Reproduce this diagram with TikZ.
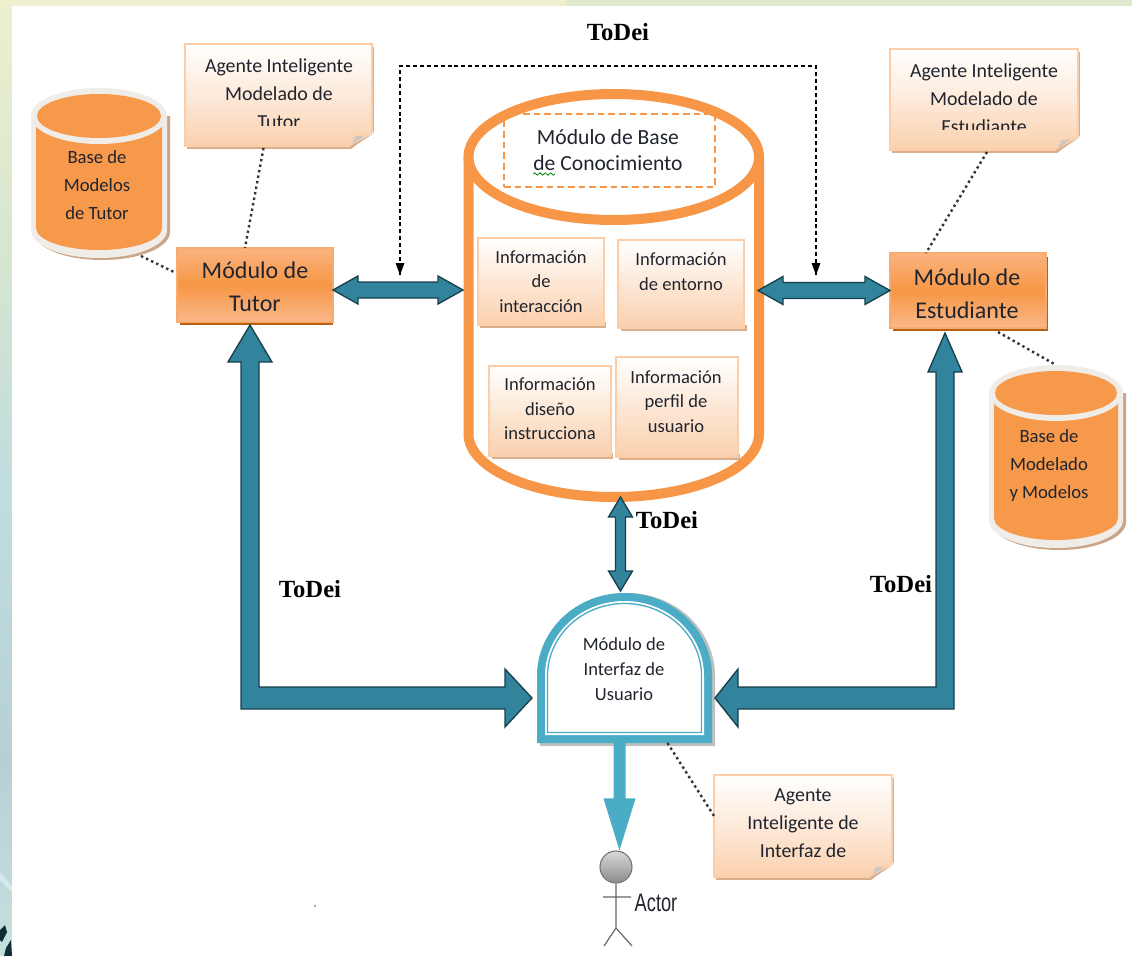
\documentclass[tikz,border=0pt]{standalone}
\usepackage{fontspec}
\setmainfont{Carlito}
\newfontfamily\todeifont{Liberation Serif}
\newfontfamily\actorfont{Liberation Sans}
\usetikzlibrary{calc,arrows.meta,decorations.pathmorphing}
\definecolor{orng}{HTML}{F79646}
\definecolor{orngL}{HTML}{FAB98A}
\definecolor{paleO}{HTML}{FAD0AD}
\definecolor{edgeO}{HTML}{FBCDA8}
\definecolor{shadeO}{HTML}{D9AE8C}
\definecolor{brownS}{HTML}{B85F14}
\definecolor{teal1}{HTML}{31849B}
\definecolor{tealD}{HTML}{17404C}
\definecolor{sky}{HTML}{4BACC6}
\definecolor{rim}{HTML}{F0ECE8}
\definecolor{rimS}{HTML}{C9A68A}
\definecolor{ink}{HTML}{20242E}
\definecolor{sA}{HTML}{EEF0CF}
\definecolor{sB}{HTML}{D6E6CF}
\definecolor{sC}{HTML}{C2DDDF}
\definecolor{sD}{HTML}{B6D0D6}
\definecolor{sE}{HTML}{C6E0DE}
\pgfdeclareverticalshading{strip}{100bp}{color(0bp)=(sE); color(25bp)=(sE); color(35bp)=(sD); color(50bp)=(sC); color(62bp)=(sB); color(75bp)=(sA); color(100bp)=(sA)}
\def\u{0.75pt}
\tikzset{
  x=0.75pt,y=-0.75pt,
  note/.style={top color=white,bottom color=paleO,middle color=white!55!paleO,draw=edgeO,line width=1pt},
  infobox/.style={top color=white,bottom color=paleO,draw=edgeO,line width=1pt},
  modbox/.style={top color=orngL!85!orng,bottom color=orngL,middle color=orng,draw=orngL!60!orng,line width=1pt},
  hidden/.style={inner sep=0pt,outer sep=0pt},
  txt/.style={text=ink,align=center,inner sep=0pt,font=\fontsize{14.9}{21}\selectfont},
  dbtxt/.style={text=ink,align=center,inner sep=0pt,font=\fontsize{14}{21}\selectfont},
  infotxt/.style={text=ink,align=center,inner sep=0pt,font=\fontsize{13.9}{18.5}\selectfont},
  modtxt/.style={text=ink,align=center,inner sep=0pt,font=\fontsize{18}{25}\selectfont},
  todei/.style={inner sep=0pt,text=black,font=\todeifont\bfseries\fontsize{18.5}{18.5}\selectfont},
  dotline/.style={draw=black!80,line width=1.8pt,dash pattern=on 1.8pt off 2.4pt},
  blockarrow/.style={fill=teal1,draw=tealD,line width=1pt,line join=miter},
}
\newcommand\rbox[6]{\node[#1,hidden,minimum width={(#5-#3)*\u},minimum height={(#6-#4)*\u}] (#2) at ({(#3+#5)/2},{(#4+#6)/2}) {};}
% note with folded corner
\newcommand\notebox[5]{%
  \fill[shadeO] (#2+2,#3+3) rectangle (#4+2,#5+3);
  \rbox{note}{#1}{#2}{#3}{#4}{#5}
  \fill[white] (#4-22,#5+4) -- (#4+3,#5+4) -- (#4+3,#5-15) -- cycle;
  \fill[shadeO] (#4-22,#5+3) -- (#4-22,#5) -- (#4+2,#5-13) -- cycle;
  \fill[paleO] (#4-22,#5) -- (#4-18,#5-10) -- (#4,#5-14) -- cycle;
  \fill[black!22] (#4-20,#5-2) -- (#4-16,#5-10) -- (#4-8,#5-10) -- cycle;
}
% database cylinder: name, cx, top, rx, ry, bottom
\newcommand\dbcyl[6]{%
  \fill[rimS] (#2-#4+2,#3+#5) -- (#2+#4+3,#3+#5) -- (#2+#4+3,#6-#5+2) arc[start angle=0,end angle=-180,x radius=#4*\u,y radius=#5*\u] -- cycle;
  \fill[rim] (#2-#4,#3+#5) -- (#2+#4,#3+#5) -- (#2+#4,#6-#5) arc[start angle=0,end angle=-180,x radius=#4*\u,y radius=#5*\u] -- cycle;
  \fill[orng!97!white] (#2-#4+5,#3+#5) -- (#2+#4-5,#3+#5) -- (#2+#4-5,#6-#5-2) arc[start angle=0,end angle=-180,x radius={(#4-5)*\u},y radius={(#5-6)*\u}] -- cycle;
  \fill[rim] (#2,#3+#5) ellipse[x radius=#4*\u,y radius=#5*\u];
  \fill[orng!97!white] (#2,#3+#5) ellipse[x radius={(#4-6)*\u},y radius={(#5-6)*\u}];
  \node[hidden,minimum width={2*#4*\u},minimum height={(#6-#3)*\u}] (#1) at (#2,{(#3+#6)/2}) {};
}
% horizontal two-headed block arrow between two named points
\newcommand\hdouble[2]{%
  \draw[blockarrow] let \p1=(#1),\p2=(#2) in
    (\x1,\y1) -- (\x1+25*\u,\y1+14*\u) -- (\x1+25*\u,\y1+8*\u) -- (\x2-25*\u,\y1+8*\u) -- (\x2-25*\u,\y1+14*\u)
    -- (\x2,\y1) -- (\x2-25*\u,\y1-14*\u) -- (\x2-25*\u,\y1-8*\u) -- (\x1+25*\u,\y1-8*\u) -- (\x1+25*\u,\y1-14*\u) -- cycle;
}
\begin{document}
\begin{tikzpicture}
\useasboundingbox (0,0) rectangle (1132,956);
% page behind the picture
\shade[shading=strip] (0,0) rectangle (12,956);
\fill[sA] (0,0) rectangle (566,6);
\fill[sB!60!sA] (566,0) rectangle (1132,6);
\fill[white] (12,6) rectangle (1132,956);
\fill[tealD!70!black] (0,930) -- (5,925) -- (7,932) -- (2,942) -- (0,940) -- cycle;
\fill[tealD!70!black] (6,948) -- (11,940) -- (12,956) -- (4,956) -- cycle;
\fill[white!35!sC] (0,872) -- (12,886) -- (12,892) -- (0,880) -- cycle;

% ---------- knowledge base cylinder
\rbox{hidden}{kb}{463}{89}{764}{502}
\draw[orng,line width=7.5pt,fill=white] (468.5,157) -- (468.5,434) arc[start angle=180,end angle=360,x radius=145.25*\u,y radius=63*\u] -- (759,157);
\draw[orng,line width=7.5pt,fill=white] (613.75,157) ellipse[x radius=145.25*\u,y radius=63*\u];
\rbox{draw=orng,line width=1pt,dash pattern=on 5pt off 3pt}{kbtitle}{504}{114}{715}{187}
\node[txt,font=\fontsize{16.2}{19}\selectfont] (kbtext) at (608,150) {Módulo de Base\\de Conocimiento};
\coordinate (wigA) at (533,174);
\coordinate (wigB) at (555,174);
\draw[green!55!black,line width=.6pt,decorate,decoration={snake,amplitude=.9pt,segment length=4pt}] (wigA) -- (wigB);

% info boxes
\fill[shadeO] (480,322) rectangle (606,328);
\rbox{infobox}{info1}{478}{238}{604}{325}
\fill[shadeO] (621,325) rectangle (747,331);
\rbox{infobox}{info2}{618}{240}{744}{328}
\fill[shadeO] (492,453) rectangle (613,459);
\rbox{infobox}{info3}{489}{366}{611}{456}
\fill[shadeO] (619,454) rectangle (740,460);
\rbox{infobox}{info4}{616}{357}{738}{457}
\node[infotxt] (t1) at (541,281.5) {Información\\de\\interacción};
\node[infotxt] (t2) at (681,272) {Información\\de entorno};
\node[infotxt] (t3) at (550,409) {Información\\diseño\\instrucciona};
\node[infotxt] (t4) at (676,401.5) {Información\\perfil de\\usuario};

% ---------- module boxes
\fill[brownS] (180,318) rectangle (333,325);
\rbox{modbox}{tutor}{177}{248}{333}{322}
\node[modtxt] (tutort) at (255,287) {Módulo de\\Tutor};
\fill[brownS] (893,257) rectangle (1048,331);
\rbox{modbox}{student}{890}{253}{1046}{328}
\node[modtxt] (studentt) at (967,294) {Módulo de\\Estudiante};

% ---------- databases
\dbcyl{tutordb}{99}{88}{68}{28}{258}
\node[dbtxt] (tutordbt) at (97,185.5) {Base de\\Modelos\\de Tutor};
\dbcyl{studentdb}{1056}{365}{67}{28}{548}
\node[dbtxt] (studentdbt) at (1049,466) {Base de\\Modelado\\y Modelos};

% ---------- agents
\notebox{agtutor}{185}{44}{372}{146}
\begin{scope}
\clip (185,44) rectangle (372,125);
\node[txt] (agtutort) at (279,94) {Agente Inteligente\\Modelado de\\Tutor};
\end{scope}
\notebox{agstudent}{890}{49}{1078}{150}
\begin{scope}
\clip (890,49) rectangle (1078,129);
\node[txt] (agstudentt) at (984,99) {Agente Inteligente\\Modelado de\\Estudiante};
\end{scope}
\notebox{agui}{714}{775}{892}{877}
\node[txt] (aguit) at (803,823.5) {Agente\\Inteligente de\\Interfaz de};

% ---------- user interface arch
\rbox{hidden}{ui}{537}{593}{712}{743}
\fill[black!25] (540,746) -- (715,746) -- (715,676) arc[start angle=0,end angle=180,x radius=87.5*\u,y radius=83*\u] -- cycle;
\fill[sky] (537,743) -- (712,743) -- (712,676) arc[start angle=0,end angle=180,x radius=87.5*\u,y radius=83*\u] -- cycle;
\fill[white] (545,735) -- (704,735) -- (704,676) arc[start angle=0,end angle=180,x radius=79.5*\u,y radius=75*\u] -- cycle;
\draw[sky,line width=1pt] (547.5,732.5) -- (701.5,732.5) -- (701.5,676) arc[start angle=0,end angle=180,x radius=77*\u,y radius=72.5*\u] -- cycle;
\node[infotxt] (uit) at (624,669) {Módulo de\\Interfaz de\\Usuario};

% ---------- block arrows
\coordinate (tutorA) at (tutor.east);
\coordinate (kbL) at (kb.west |- tutor.east);
\hdouble{$(tutorA)+(0,5)$}{$(kbL)+(0,5)$}
\coordinate (kbR) at (kb.east |- student.west);
\coordinate (stuL) at (student.west);
\hdouble{$(kbR)+(-6,0)$}{$(stuL)+(0,0)$}

% vertical two-headed arrow kb <-> ui
\coordinate (vtop) at ($(kb.south)+(7,-5)$);
\coordinate (vbot) at ($(ui.north)+(-4,-2)$);
\draw[blockarrow] let \p1=(vtop),\p2=(vbot) in
  (\x1,\y1) -- (\x1+12*\u,\y1-20*\u) -- (\x1+5*\u,\y1-20*\u) -- (\x1+5*\u,\y2+20*\u) -- (\x1+12*\u,\y2+20*\u)
  -- (\x1,\y2) -- (\x1-12*\u,\y2+20*\u) -- (\x1-5*\u,\y2+20*\u) -- (\x1-5*\u,\y1-20*\u) -- (\x1-12*\u,\y1-20*\u) -- cycle;

% big L arrow tutor <-> ui
\coordinate (ltip) at ($(tutor.south)+(-5,3)$);
\coordinate (lend) at ($(ui.west)+(-5,30)$);
\draw[blockarrow] let \p1=(ltip),\p2=(lend) in
  (\x1,\y1) -- (\x1+22*\u,\y1-37*\u) -- (\x1+9*\u,\y1-37*\u) -- (\x1+9*\u,\y2+11*\u) -- (\x2-27*\u,\y2+11*\u) -- (\x2-27*\u,\y2+29*\u)
  -- (\x2,\y2) -- (\x2-27*\u,\y2-29*\u) -- (\x2-27*\u,\y2-11*\u) -- (\x1-9*\u,\y2-11*\u) -- (\x1-9*\u,\y1-37*\u) -- (\x1-22*\u,\y1-37*\u) -- cycle;

% big L arrow student <-> ui
\coordinate (rtip) at ($(student.south)+(-23,5)$);
\coordinate (rend) at ($(ui.east)+(3,30)$);
\draw[blockarrow] let \p1=(rtip),\p2=(rend) in
  (\x1,\y1) -- (\x1+17*\u,\y1-39*\u) -- (\x1+9*\u,\y1-39*\u) -- (\x1+9*\u,\y2-11*\u) -- (\x2+23*\u,\y2-11*\u) -- (\x2+23*\u,\y2-29*\u)
  -- (\x2,\y2) -- (\x2+23*\u,\y2+29*\u) -- (\x2+23*\u,\y2+11*\u) -- (\x1-9*\u,\y2+11*\u) -- (\x1-9*\u,\y1-39*\u) -- (\x1-17*\u,\y1-39*\u) -- cycle;

% ---------- actor
\node[circle,draw=black!55,line width=.8pt,top color=white!85!black,bottom color=black!45,minimum size={32*\u},inner sep=0pt] (head) at (616,867) {};
\coordinate (hip) at (616,928);
\coordinate (armL) at (603,897);
\coordinate (armR) at (631,897);
\coordinate (footL) at (604,946);
\coordinate (footR) at (632,946);
\draw[black!60,line width=.9pt] (head.south) -- (hip) (armL) -- (armR) (footL) -- (hip) -- (footR);
\node[inner sep=0pt,text=ink,xscale=.72,font=\actorfont\fontsize{19}{19}\selectfont] (actor) at (656,903) {Actor};

% sky arrow ui -> actor
\coordinate (sA1) at ($(ui.south)+(-5,0)$);
\coordinate (sA2) at ($(head.north)+(3,0)$);
\fill[sky] let \p1=(sA1),\p2=(sA2) in
  (\x1-6*\u,\y1) -- (\x1+6*\u,\y1) -- (\x1+6*\u,\y2+52*\u) -- (\x1+16*\u,\y2+52*\u) -- (\x1,\y2) -- (\x1-16*\u,\y2+52*\u) -- (\x1-6*\u,\y2+52*\u) -- cycle;

% ---------- dotted links
\draw[dotline] ($(agtutor.south)+(-15,2)$) -- ($(tutor.north)+(-10,0)$);
\draw[dotline] ($(tutordb.south)+(42,-2)$) -- ($(tutor.west)+(-3,-13)$);
\draw[dotline] ($(agstudent.south)+(3,2)$) -- ($(student.north)+(-42,0)$);
\draw[dotline] ($(student.south)+(30,4)$) -- ($(studentdb.north)+(0,0)$);
\draw[dotline] ($(ui.south)+(43,0)$) -- ($(agui.west)+(0,-10)$);

% ---------- dashed link
\coordinate (dashL) at (400,275);
\coordinate (dashR) at (816,275);
\coordinate (dashTL) at (400,66);
\coordinate (dashTR) at (816,66);
\draw[black,line width=.9pt,dash pattern=on 3pt off 2.2pt] (dashL) -- (dashTL) -- (dashTR) -- (dashR);
\fill[black] let \p1=(dashL) in (\x1,\y1) -- (\x1-4.5*\u,\y1+12*\u) -- (\x1+4.5*\u,\y1+12*\u) -- cycle;
\fill[black] let \p1=(dashR) in (\x1,\y1) -- (\x1-4.5*\u,\y1+12*\u) -- (\x1+4.5*\u,\y1+12*\u) -- cycle;

% ---------- labels
\node[todei] (l1) at (618,32) {ToDei};
\node[todei] (l2) at (667,520) {ToDei};
\node[todei] (l3) at (310,589) {ToDei};
\node[todei] (l4) at (901,584) {ToDei};
\fill[black!70] (315,906) circle (0.7pt);
\end{tikzpicture}
\end{document}
